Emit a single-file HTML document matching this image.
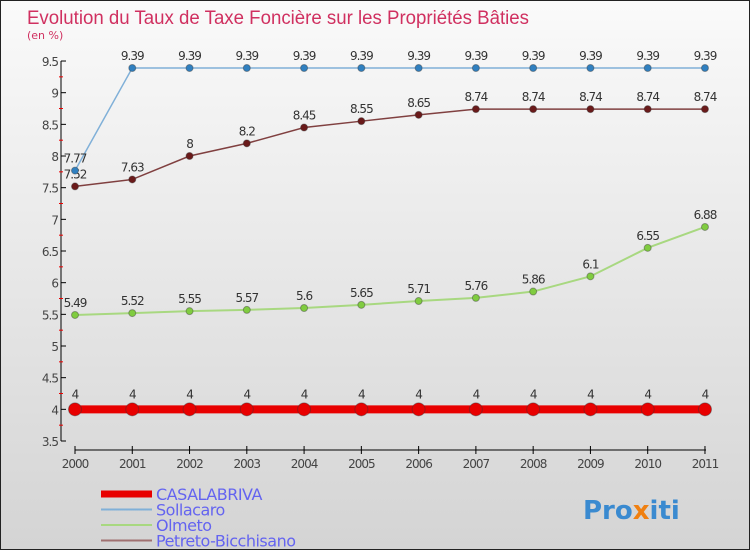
<!DOCTYPE html>
<html><head><meta charset="utf-8"><style>
body{margin:0}
#c{width:748px;height:548px;border:1px solid #222;background:linear-gradient(#fafafa,#d4d4d4);position:relative;font-family:"DejaVu Sans","Liberation Sans",sans-serif}
</style></head><body>
<div id="c">
<svg id="s" width="748" height="548" style="position:absolute;left:0;top:0">
<text x="26" y="23" font-size="19" fill="#d03060" font-family="Liberation Sans, sans-serif" textLength="502" lengthAdjust="spacingAndGlyphs">Evolution du Taux de Taxe Foncière sur les Propriétés Bâties</text>
<text x="26" y="38" font-size="11" fill="#d03060">(en %)</text>
</svg>
</div>
<script>
const years=[2000,2001,2002,2003,2004,2005,2006,2007,2008,2009,2010,2011];
const casalabriva=[4,4,4,4,4,4,4,4,4,4,4,4];
const sollacaro=[7.77,9.39,9.39,9.39,9.39,9.39,9.39,9.39,9.39,9.39,9.39,9.39];
const olmeto=[5.49,5.52,5.55,5.57,5.6,5.65,5.71,5.76,5.86,6.1,6.55,6.88];
const petreto=[7.52,7.63,8,8.2,8.45,8.55,8.65,8.74,8.74,8.74,8.74,8.74];
const yTicks=[3.5,4,4.5,5,5.5,6,6.5,7,7.5,8,8.5,9,9.5];
const NS="http://www.w3.org/2000/svg",s=document.getElementById('s');
const X=i=>74+i*57.27, Y=v=>440-(v-3.5)*63.33;
function el(t,a,p){const e=document.createElementNS(NS,t);for(const k in a)e.setAttribute(k,a[k]);(p||s).appendChild(e);return e;}
const ax=el('g',{});


el('line',{x1:60,y1:Y(9.5),x2:60,y2:Y(3.5),stroke:'#000'},ax);
el('line',{x1:74,y1:449,x2:705,y2:449,stroke:'#000'},ax);
yTicks.forEach((v,i)=>{
  el('line',{x1:60,y1:Y(v),x2:65,y2:Y(v),stroke:'#000'},ax);
  const t=el('text',{x:57,y:Y(v)+5,'text-anchor':'end','font-size':12,fill:'#444','letter-spacing':'-1'},ax);
  t.textContent=String(v);
  
  
  if(i<yTicks.length-1){el('line',{x1:58,y1:Y(v+0.25),x2:62,y2:Y(v+0.25),stroke:'#e00'},ax);}
});
years.forEach((y,i)=>{
  el('line',{x1:X(i),y1:445,x2:X(i),y2:453,stroke:'#000'},ax);
  const t=el('text',{x:X(i),y:467,'text-anchor':'middle','font-size':12,fill:'#444','letter-spacing':'-1'},ax);
  t.textContent=y;
  
  
});
function series(data,color,dot,w,r,name){
  const g=el('g',{});
  
  
  el('polyline',{points:data.map((v,i)=>X(i)+','+Y(v)).join(' '),fill:'none',stroke:color,'stroke-width':w},g);
  data.forEach((v,i)=>{
    const c=el('circle',{cx:X(i),cy:Y(v),r:r,fill:dot,stroke:'#333','stroke-opacity':0.4},g);
    
    
    const t=el('text',{x:X(i),y:Y(v)-(name==='casalabriva'?11:8),'text-anchor':'middle','font-size':12,fill:'#333','letter-spacing':'-1'},g);
    t.textContent=String(v);
    
    
  });
}
series(olmeto,'#a8d880','#80cc40',2,3.5,'olmeto');
series(petreto,'#804040','#6a1a1a',1.5,3.5,'petreto');
series(sollacaro,'#80b0d8','#3080c0',1.5,3.5,'sollacaro');
series(casalabriva,'#e80000','#e80000',8,6.5,'casalabriva');
const leg=[['CASALABRIVA','#e80000',7],['Sollacaro','#80b0d8',2],['Olmeto','#a8d880',2],['Petreto-Bicchisano','#a07070',2]];
leg.forEach((l,i)=>{
  const g=el('g',{});
  
  
  const y=493+i*15.5;
  el('line',{x1:100,y1:y,x2:151,y2:y,stroke:l[1],'stroke-width':l[2]},g);
  const t=el('text',{x:155,y:y+6,'font-size':16,fill:'#6464f0','letter-spacing':'-0.5'},g);
  t.textContent=l[0];
});
const lg=el('text',{x:582,y:518,'font-size':26,'font-weight':'bold',fill:'#f09020'});


lg.innerHTML='<tspan fill="#3a8ad0">Pro</tspan><tspan fill="#f08010">x</tspan><tspan fill="#3a8ad0">iti</tspan>';
</script>
</body></html>
